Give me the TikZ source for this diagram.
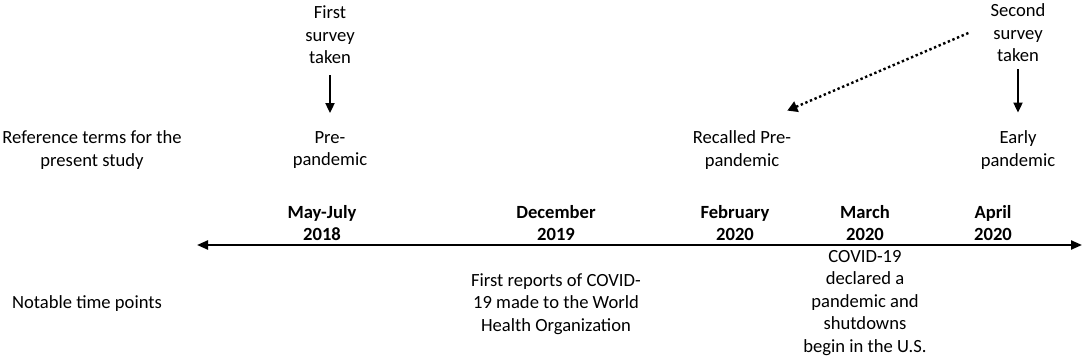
\documentclass[tikz,border=0pt]{standalone}
\usepackage{fontspec}
\setmainfont{Carlito}
\usetikzlibrary{arrows.meta,positioning}
\tikzset{
  txt/.style={align=center,inner sep=2pt,font=\fontsize{18.6}{22.5}\selectfont},
  datelbl/.style={txt,font=\fontsize{18.6}{22.5}\selectfont\bfseries},
  survarrow/.style={line width=1.9pt,-{Triangle[length=10pt,width=9pt]}},
  recallarrow/.style={line width=2.4pt,dash pattern=on 2.4pt off 2.6pt,-{Triangle[length=10pt,width=11pt]}}
}
\begin{document}
\begin{tikzpicture}[x=1pt,y=-1pt]
  \useasboundingbox (0,0) rectangle (1084,358);
  % row titles on the left
  \node[txt] (refterms) at (92,150) {Reference terms for the\\present study};
  \node[txt] (notable) at (87,304) {Notable time points};
  % surveys
  \node[txt] (first) at (330,35) {First\\survey\\taken};
  \node[txt] (second) at (1018,33) {Second\\survey\\taken};
  % reference terms
  \node[txt] (pre) at (330,150) {Pre-\\pandemic};
  \node[txt] (recalled) at (742,150) {Recalled Pre-\\pandemic};
  \node[txt] (early) at (1018,150) {Early\\pandemic};
  % dates above the timeline
  \node[datelbl] (mayjul) at (322,223) {May-July\\2018};
  \node[datelbl] (dec) at (556,223) {December\\2019};
  \node[datelbl] (feb) at (735,223) {February\\2020};
  \node[datelbl] (mar) at (865,223) {March\\2020};
  \node[datelbl] (apr) at (993,223) {April\\2020};
  % events below the timeline
  \node[txt] (who) at (556,304) {First reports of COVID-\\19 made to the World\\Health Organization};
  \node[txt] (declared) at (865,303) {COVID-19\\declared a\\pandemic and\\shutdowns\\begin in the U.S.};
  % timeline
  \coordinate (tlstart) at (197,245);
  \coordinate (tlend) at (1082,245);
  \draw[line width=2.2pt,{Triangle[length=11pt,width=9pt]}-{Triangle[length=11pt,width=9pt]}] (tlstart) -- (tlend);
  % survey arrows
  \draw[survarrow,shorten <=9pt,shorten >=16pt] (first) -- (pre);
  \draw[survarrow,shorten <=5pt,shorten >=16pt] (second) -- (early);
  \draw[recallarrow] ([shift={(-20,0)}]second.west) -- ([shift={(-6,-18)}]recalled.north east);
\end{tikzpicture}
\end{document}
